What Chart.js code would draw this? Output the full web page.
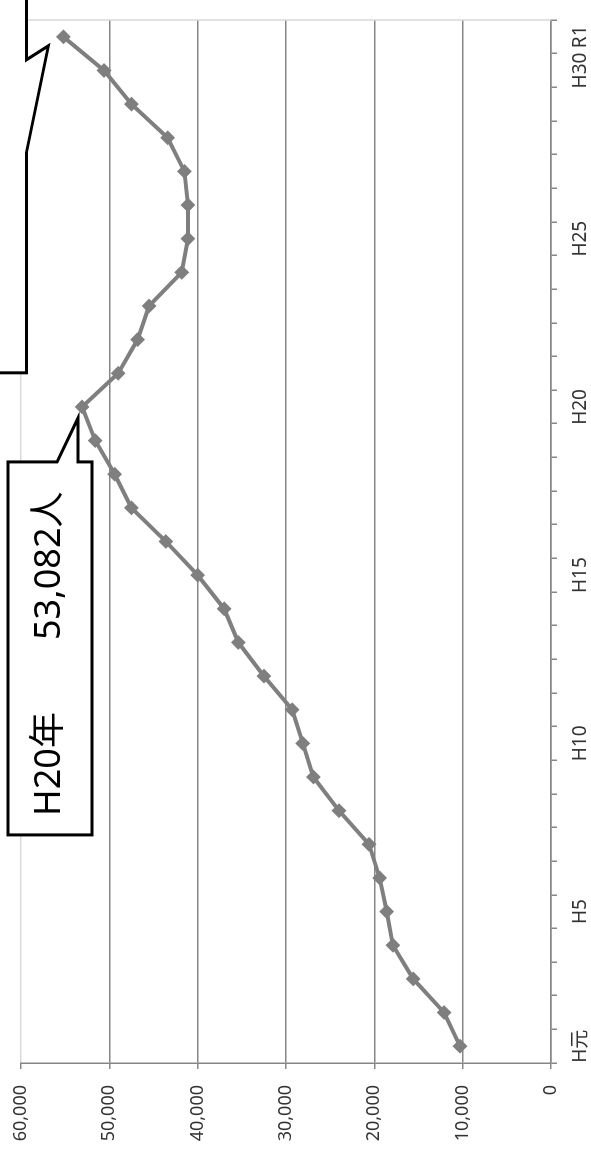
<!DOCTYPE html>
<html>
<head>
<meta charset="utf-8">
<script src="https://cdn.jsdelivr.net/npm/chart.js@4/dist/chart.umd.min.js"></script>
<style>
  html, body { margin: 0; padding: 0; background: #fff; overflow: hidden; }
  body { width: 591px; height: 1157px; position: relative; }
  /* the chart is drawn upright and then turned a quarter to the left */
  #wrap {
    position: absolute; left: 0; top: 0;
    width: 1157px; height: 591px;
    transform-origin: 0 0;
    transform: translateY(1157px) rotate(-90deg);
  }
</style>
</head>
<body>
<div id="wrap"><canvas id="visitChart" width="1157" height="591"></canvas></div>
<script>
const categories = ['H元','H2','H3','H4','H5','H6','H7','H8','H9','H10',
  'H11','H12','H13','H14','H15','H16','H17','H18','H19','H20',
  'H21','H22','H23','H24','H25','H26','H27','H28','H29','H30','R1'];
const visitors = [10300, 12100, 15600, 17900, 18600, 19400, 20600, 24000, 26900, 28100,
  29300, 32500, 35400, 37000, 40000, 43600, 47500, 49400, 51600, 53082,
  49000, 46800, 45500, 41800, 41100, 41100, 41500, 43400, 47500, 50600, 55200];
const shownLabels = ['H元','H5','H10','H15','H20','H25','H30','R1'];
const valueTicks = [0, 10000, 20000, 30000, 40000, 50000, 60000];
const peakText = 'H20年　　53,082人';

const FONT = '"Noto Sans", "Noto Sans CJK JP", sans-serif';
Chart.defaults.font.family = FONT;

const plotBorder = {
  id: 'plotBorder',
  beforeDatasetsDraw(chart) {
    const { ctx, chartArea: a } = chart;
    ctx.save();
    ctx.strokeStyle = '#d9d9d9';
    ctx.lineWidth = 1.5;
    ctx.beginPath();
    ctx.moveTo(a.right, a.top);
    ctx.lineTo(a.right, a.bottom);
    ctx.stroke();
    ctx.restore();
  }
};

const callouts = {
  id: 'callouts',
  afterDatasetsDraw(chart) {
    const ctx = chart.ctx;
    const pts = chart.getDatasetMeta(0).data;
    ctx.save();
    ctx.lineWidth = 3;
    ctx.strokeStyle = '#000';
    ctx.fillStyle = '#fff';
    ctx.lineJoin = 'miter';

    // peak callout, pointer on the right side aimed at H20
    const p = pts[categories.indexOf('H20')];
    const l = p.x - 428, r = p.x - 55, t = p.y - 74, b = p.y + 10;
    ctx.beginPath();
    ctx.moveTo(l, t);
    ctx.lineTo(r, t);
    ctx.lineTo(r, p.y - 25);
    ctx.lineTo(p.x - 11, p.y - 4);
    ctx.lineTo(r, p.y - 4);
    ctx.lineTo(r, b);
    ctx.lineTo(l, b);
    ctx.closePath();
    ctx.fill();
    ctx.stroke();
    ctx.fillStyle = '#000';
    ctx.font = '36px ' + FONT;
    ctx.textAlign = 'left';
    ctx.textBaseline = 'alphabetic';
    ctx.fillText(peakText, l + 19, p.y - 22);

    // R1 callout, mostly cut off by the picture edge
    const q = pts[categories.length - 1];
    const l2 = q.x - 336, b2 = q.y - 37;
    ctx.fillStyle = '#fff';
    ctx.beginPath();
    ctx.moveTo(l2, -60);
    ctx.lineTo(l2, b2);
    ctx.lineTo(q.x - 116, b2);
    ctx.lineTo(q.x - 9, q.y - 15);
    ctx.lineTo(q.x - 23, b2);
    ctx.lineTo(q.x + 120, b2);
    ctx.lineTo(q.x + 120, -60);
    ctx.closePath();
    ctx.fill();
    ctx.stroke();
    ctx.restore();
  }
};

const chart = new Chart(document.getElementById('visitChart'), {
  type: 'line',
  data: {
    labels: categories,
    datasets: [{
      data: visitors,
      borderColor: '#7f7f7f',
      borderWidth: 4,
      backgroundColor: '#7f7f7f',
      pointStyle: 'rectRot',
      pointRadius: 6,
      pointBorderWidth: 2,
      pointBorderColor: '#7f7f7f',
      pointBackgroundColor: '#7f7f7f',
      tension: 0
    }]
  },
  options: {
    responsive: false,
    animation: false,
    devicePixelRatio: 1,
    layout: { padding: { top: 21, right: 20, left: 0, bottom: 0 } },
    plugins: { legend: { display: false }, tooltip: { enabled: false } },
    scales: {
      x: {
        type: 'category',
        offset: true,
        afterFit: s => { s.height = 40; s.paddingLeft = 0; s.paddingRight = 0; },
        grid: { offset: true, drawOnChartArea: false, tickLength: 6, tickColor: '#868686', lineWidth: 1.5 },
        border: { color: '#868686', width: 1.5 },
        ticks: {
          autoSkip: false, maxRotation: 0, padding: 12,
          color: '#333', font: { size: 19 },
          callback: (v, i) => shownLabels.includes(categories[i]) ? categories[i] : ''
        }
      },
      y: {
        min: 0, max: 60000,
        afterFit: s => { s.width = 94; s.paddingTop = 0; s.paddingBottom = 0; },
        afterBuildTicks: s => { s.ticks = valueTicks.map(v => ({ value: v })); },
        grid: {
          color: c => c.tick && c.tick.value === 60000 ? '#d9d9d9' : '#868686',
          tickColor: '#868686', tickLength: 6, lineWidth: 1.5
        },
        border: { color: '#868686', width: 1.5 },
        ticks: {
          padding: 16, color: '#333', font: { size: 18 },
          callback: v => v.toLocaleString('en-US')
        }
      }
    }
  },
  plugins: [plotBorder, callouts]
});
</script>
</body>
</html>
